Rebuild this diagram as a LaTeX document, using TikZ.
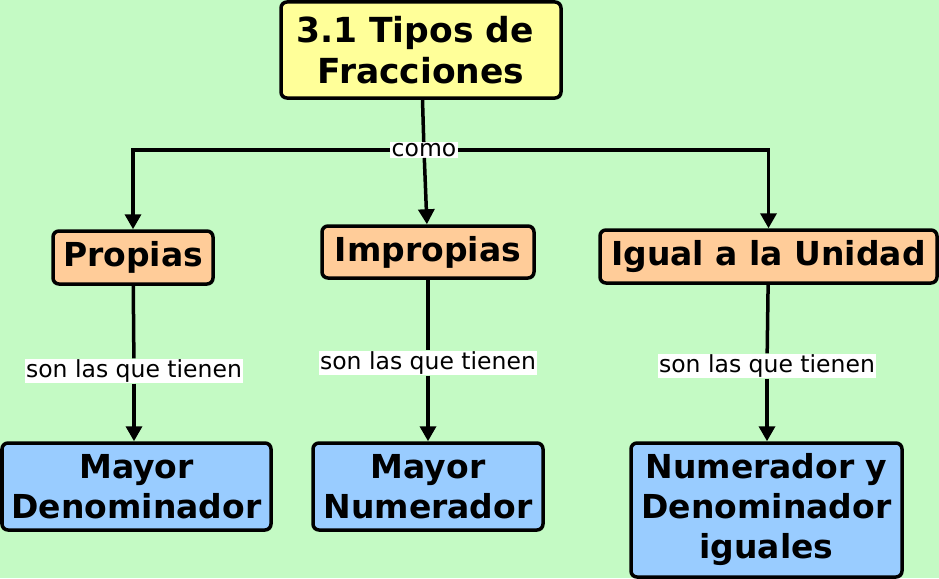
\documentclass[tikz,border=0pt]{standalone}
\usepackage{fontspec}
\setmainfont{DejaVu Sans}
\usetikzlibrary{arrows.meta}
\definecolor{bg}{HTML}{C4FAC4}
\definecolor{ytitle}{HTML}{FFFF99}
\definecolor{orng}{HTML}{FFCC99}
\definecolor{blu}{HTML}{99CCFF}
\tikzset{
  box/.style={draw=black, line width=3.5pt, rounded corners=6pt, align=center, inner sep=0pt, font=\fontsize{33}{40}\selectfont\bfseries},
  titlebox/.style={box, fill=ytitle, font=\fontsize{34.5}{41}\selectfont\bfseries},
  catbox/.style={box, fill=orng},
  resbox/.style={box, fill=blu},
  lbl/.style={fill=white, inner xsep=1.5pt, inner ysep=1pt, font=\fontsize{23.5}{26}\selectfont},
  conn/.style={line width=3.5pt, draw=black},
  arr/.style={conn, -{Triangle[width=16pt,length=15pt]}}
}
\begin{document}
\begin{tikzpicture}[x=1pt,y=-1pt]
\fill[bg] (0,0) rectangle (939,578);
\useasboundingbox (0,0) rectangle (939,578);

\node[titlebox, minimum width=280pt, minimum height=96pt] (top) at (421,50) {3.1 Tipos de\kern12pt\\Fracciones};

\node[catbox, minimum width=160pt, minimum height=53pt] (prop) at (133,257.5) {Propias};
\node[catbox, minimum width=212pt, minimum height=52pt] (imp) at (428,252) {Impropias};
\node[catbox, minimum width=337pt, minimum height=53pt] (igu) at (768.5,256.5) {Igual a la Unidad};

\node[resbox, minimum width=269pt, minimum height=87pt] (mden) at (136.5,486.5) {Mayor\\Denominador};
\node[resbox, minimum width=230pt, minimum height=87pt] (mnum) at (428,486.5) {Mayor\\Numerador};
\node[resbox, minimum width=271pt, minimum height=134pt] (nyd) at (766.5,510) {Numerador y\\Denominador\\iguales};

\node[lbl] (como) at (424,150) {como};
\node[lbl] (l1) at (134,371) {son las que tienen};
\node[lbl] (l2) at (428,363) {son las que tienen};
\node[lbl] (l3) at (767,366) {son las que tienen};

\draw[conn] (top) -- (como);
\draw[arr] (como) -- (imp);
\draw[arr] (como) -| (prop);
\draw[arr] (como) -| (igu);

\draw[conn] (prop) -- (l1);
\draw[arr] (l1) -- (mden.north -| l1);
\draw[conn] (imp) -- (l2);
\draw[arr] (l2) -- (mnum);
\draw[conn] (igu) -- (l3);
\draw[arr] (l3) -- (nyd.north -| l3);
\end{tikzpicture}
\end{document}
